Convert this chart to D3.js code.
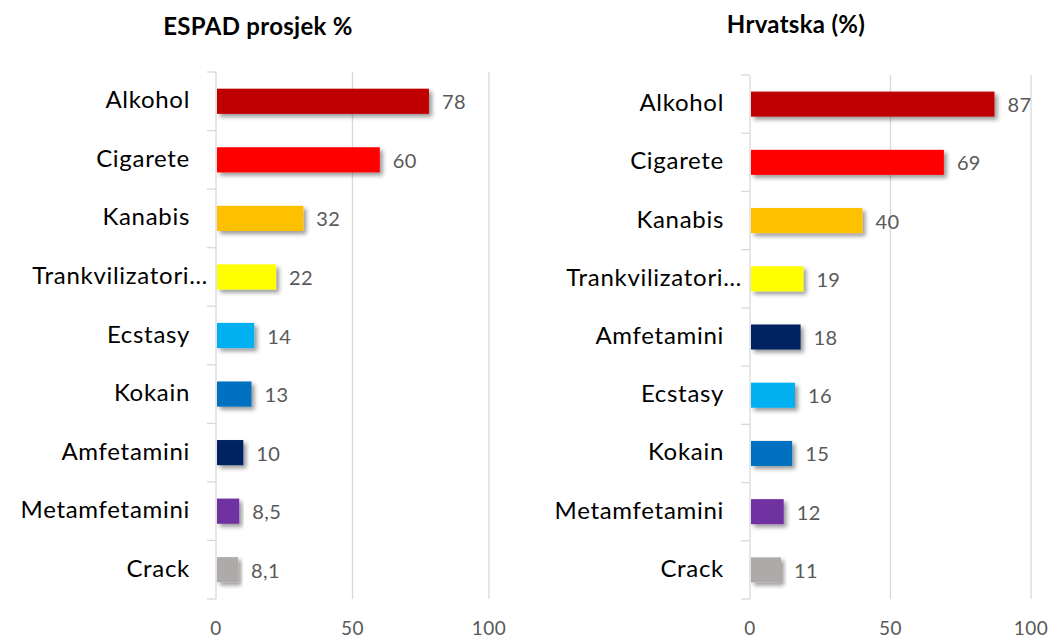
<!DOCTYPE html>
<html lang="hr">
<head>
<meta charset="utf-8">
<title>ESPAD</title>
<script src="https://d3js.org/d3.v7.min.js"></script>
<style>
  body { margin: 0; background: #fff; }
  text { font-family: Lato, "Open Sans", sans-serif; }
</style>
</head>
<body>
<svg width="1051" height="640"></svg>
<script>
// podaci
var espadCats = ["Alkohol", "Cigarete", "Kanabis", "Trankvilizatori…", "Ecstasy", "Kokain", "Amfetamini", "Metamfetamini", "Crack"];
var espadVals = [78, 60, 32, 22, 14, 13, 10, 8.5, 8.1];
var hrCats = ["Alkohol", "Cigarete", "Kanabis", "Trankvilizatori…", "Amfetamini", "Ecstasy", "Kokain", "Metamfetamini", "Crack"];
var hrVals = [87, 69, 40, 19, 18, 16, 15, 12, 11];
var xTicks = [0, 50, 100];
var colorOf = {
  "Alkohol": "#C00000", "Cigarete": "#FF0000", "Kanabis": "#FFC000",
  "Trankvilizatori…": "#FFFF00", "Ecstasy": "#00B0F0", "Kokain": "#0070C0",
  "Amfetamini": "#002060", "Metamfetamini": "#7030A0", "Crack": "#AEAAAA"
};

var svg = d3.select("svg");

svg.append("defs").append("filter").attr("id", "shadow")
  .attr("x", "-10%").attr("y", "-30%").attr("width", "130%").attr("height", "190%")
  .append("feDropShadow")
  .attr("dx", 3).attr("dy", 3).attr("stdDeviation", 2)
  .attr("flood-color", "#000").attr("flood-opacity", 0.4);

function panel(title, cats, vals, x0, x1, y0, y1, titleX, titleY) {
  var g = svg.append("g");
  var x = d3.scaleLinear().domain([0, 100]).range([x0, x1]);
  var y = d3.scaleBand().domain(cats).range([y0, y1]).paddingInner(0.57).paddingOuter(0.285);
  var yb = d3.scaleBand().domain(cats).range([y0, y1]);

  // mreža
  g.selectAll(".grid").data(xTicks.slice(1)).enter().append("line")
    .attr("x1", d => x(d)).attr("x2", d => x(d))
    .attr("y1", y0).attr("y2", y1)
    .attr("stroke", "#d9d9d9").attr("stroke-width", 1.3);

  // os y
  g.append("line").attr("x1", x0).attr("x2", x0).attr("y1", y0).attr("y2", y1)
    .attr("stroke", "#d9d9d9").attr("stroke-width", 1.3);
  var edges = cats.map(c => yb(c)).concat([y1]);
  g.selectAll(".tk").data(edges).enter().append("line")
    .attr("x1", x0 - 9).attr("x2", x0).attr("y1", d => d).attr("y2", d => d)
    .attr("stroke", "#d9d9d9").attr("stroke-width", 1.3);

  // stupci
  var data = cats.map((c, i) => ({c: c, v: vals[i]}));
  g.selectAll(".bar").data(data).enter().append("rect")
    .attr("x", x(0) + 1).attr("y", d => y(d.c))
    .attr("width", d => x(d.v) - x(0) - 1).attr("height", y.bandwidth())
    .attr("fill", d => colorOf[d.c])
    .attr("filter", "url(#shadow)");

  g.selectAll(".val").data(data).enter().append("text")
    .attr("x", d => x(d.v) + 13).attr("y", d => y(d.c) + y.bandwidth() / 2 + 8)
    .attr("font-size", 20).attr("fill", "#595959").attr("letter-spacing", 0.4)
    .text(d => String(d.v).replace(".", ","));

  // skraćena oznaka (…) stoji bliže osi, kao u Excelu
  g.selectAll(".cat").data(cats).enter().append("text")
    .attr("x", d => d.endsWith("…") ? x0 - 8 : x0 - 26)
    .attr("y", d => y(d) + y.bandwidth() / 2 + 7)
    .attr("text-anchor", "end").attr("font-size", 24).attr("fill", "#000")
    .attr("letter-spacing", 0.7)
    .text(d => d);

  g.selectAll(".xl").data(xTicks).enter().append("text")
    .attr("x", d => x(d)).attr("y", 635)
    .attr("text-anchor", "middle").attr("font-size", 19).attr("fill", "#595959")
    .attr("letter-spacing", 0.4)
    .text(d => d);

  g.append("text").attr("x", titleX).attr("y", titleY)
    .attr("text-anchor", "middle").attr("font-size", 24).attr("font-weight", "bold")
    .attr("fill", "#000").attr("letter-spacing", 0.3).text(title);
}

panel("ESPAD prosjek %", espadCats, espadVals, 216, 489, 72, 599, 258, 35);
panel("Hrvatska (%)", hrCats, hrVals, 750, 1031, 75, 599, 796, 33);
</script>
</body>
</html>
